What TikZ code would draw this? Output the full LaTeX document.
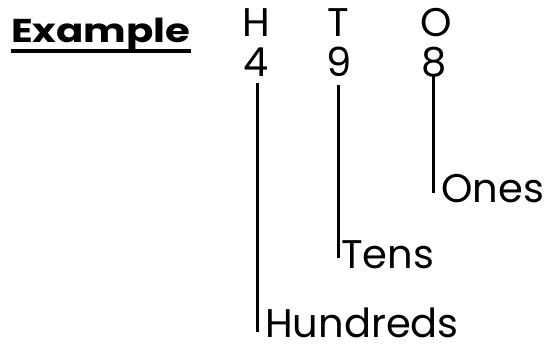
\documentclass[tikz,border=0pt]{standalone}
\usepackage{fontspec}
\setmainfont{Poppins}
\begin{document}
\begin{tikzpicture}[x=1pt,y=-1pt,
  lbl/.style={inner sep=0pt,text depth=0pt,font=\fontsize{40}{42}\selectfont},
  hdr/.style={inner sep=0pt,font=\fontsize{40}{42}\selectfont},
  conn/.style={line width=3pt}]
\useasboundingbox (0,0) rectangle (550,348);
\node[inner sep=0pt,anchor=base west,font=\bfseries\fontsize{33}{35}\selectfont] (ex) at (11,42) {\scalebox{1.22}[1]{Example}};
\draw[line width=3.5pt] (ex.base west) ++(0,9) -- ++(180,0);
\node[hdr,anchor=base] (H) at (256,37) {H};
\node[hdr,anchor=base] (T) at (338,37) {T};
\node[hdr,anchor=base] (O) at (436,37) {O};
\node[hdr,anchor=base] (d4) at (256,76) {4};
\node[hdr,anchor=base] (d9) at (339,76) {9};
\node[hdr,anchor=base] (d8) at (434,76) {8};
\node[lbl,anchor=base west] (ones) at (441,202) {Ones};
\node[lbl,anchor=base west] (tens) at (341,268) {Tens};
\node[lbl,anchor=base west] (hund) at (265,337) {Hundreds};
\coordinate (a1) at (257,83);
\coordinate (a2) at (257,332);
\coordinate (b1) at (338,85);
\coordinate (b2) at (338,258);
\coordinate (c1) at (433,75);
\coordinate (c2) at (433,193);
\draw[conn] (a1) -- (a2);
\draw[conn] (b1) -- (b2);
\draw[conn] (c1) -- (c2);
\end{tikzpicture}
\end{document}
